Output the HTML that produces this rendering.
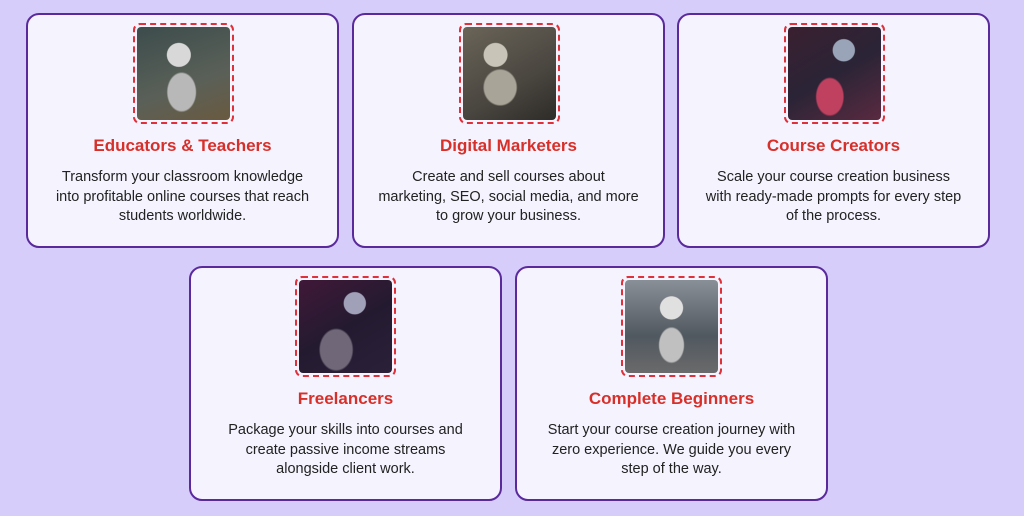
<!DOCTYPE html>
<html><head><meta charset="utf-8"><style>
body{margin:0;width:1024px;height:516px;background:#d6cdfb;font-family:"Liberation Sans",sans-serif;position:relative;overflow:hidden}
.c{position:absolute;width:313px;height:235px;box-sizing:border-box;border:2px solid #5a2a9c;border-radius:13px;background:#f5f3fe;text-align:center}
.im{position:absolute;left:105px;top:8px;width:101px;height:101px;box-sizing:border-box;border:2px dashed #e0303a;border-radius:7px;padding:2px}
.im div{width:100%;height:100%;border-radius:4px}
.t{position:absolute;left:0;right:0;top:121px;font-size:17px;font-weight:bold;color:#d7302a}
.d{position:absolute;left:0;right:0;top:153px;font-size:14.5px;line-height:19.5px;color:#222;white-space:nowrap}
</style></head><body>
<div class="c" style="left:26px;top:13px"><div class="im"><div style="background:radial-gradient(circle at 45% 30%,#d8d8d8 0 14%,transparent 15%),radial-gradient(ellipse at 48% 70%,#b8b8b8 0 20%,transparent 22%),linear-gradient(160deg,#3c4c4c,#5a6058 60%,#6a5a40)"></div></div><div class="t">Educators &amp; Teachers</div><div class="d">Transform your classroom knowledge<br>into profitable online courses that reach<br>students worldwide.</div></div>
<div class="c" style="left:352px;top:13px"><div class="im"><div style="background:radial-gradient(circle at 35% 30%,#c8c4b8 0 13%,transparent 14%),radial-gradient(ellipse at 40% 65%,#a8a498 0 20%,transparent 22%),linear-gradient(150deg,#6a6458,#4a4640 60%,#2e2c28)"></div></div><div class="t">Digital Marketers</div><div class="d">Create and sell courses about<br>marketing, SEO, social media, and more<br>to grow your business.</div></div>
<div class="c" style="left:677px;top:13px"><div class="im"><div style="background:radial-gradient(circle at 60% 25%,#9aa4b8 0 12%,transparent 13%),radial-gradient(ellipse at 45% 75%,#c04060 0 18%,transparent 20%),linear-gradient(150deg,#3a2030,#2a2436 50%,#5a2a40)"></div></div><div class="t">Course Creators</div><div class="d">Scale your course creation business<br>with ready-made prompts for every step<br>of the process.</div></div>
<div class="c" style="left:189px;top:266px"><div class="im" style="left:104px"><div style="background:radial-gradient(circle at 60% 25%,#a0a0b8 0 12%,transparent 13%),radial-gradient(ellipse at 40% 75%,#706878 0 20%,transparent 22%),linear-gradient(150deg,#401838,#241a30 50%,#2a2038)"></div></div><div class="t">Freelancers</div><div class="d">Package your skills into courses and<br>create passive income streams<br>alongside client work.</div></div>
<div class="c" style="left:515px;top:266px"><div class="im" style="left:104px"><div style="background:radial-gradient(circle at 50% 30%,#e0e0e0 0 14%,transparent 15%),radial-gradient(ellipse at 50% 70%,#c0c0c0 0 18%,transparent 20%),linear-gradient(180deg,#8a9098,#505860 60%,#6a6a6a)"></div></div><div class="t">Complete Beginners</div><div class="d">Start your course creation journey with<br>zero experience. We guide you every<br>step of the way.</div></div>
</body></html>
